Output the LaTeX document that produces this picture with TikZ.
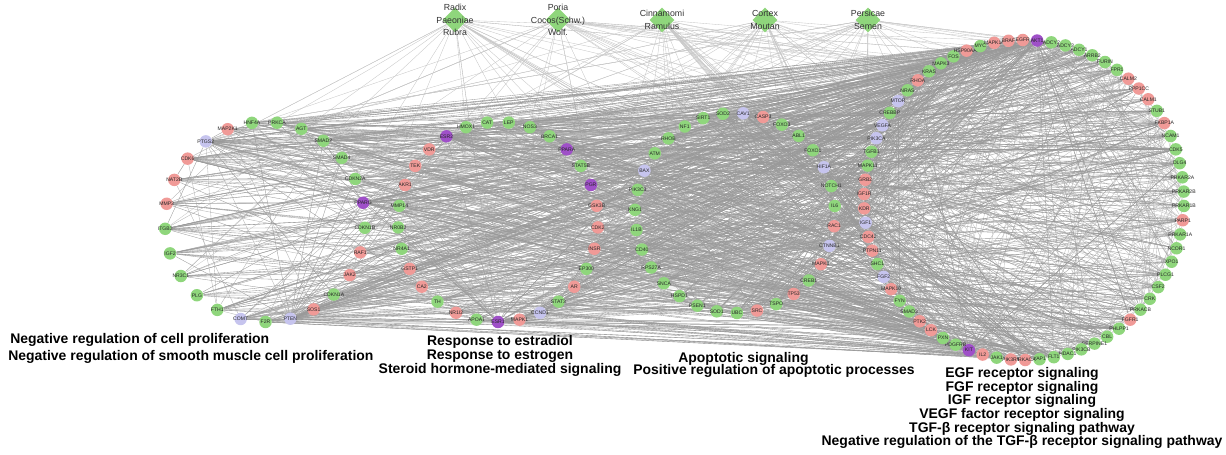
\documentclass[tikz,border=0pt]{standalone}
\usepackage{fontspec}
\setmainfont{Liberation Sans}
\usetikzlibrary{shapes.geometric,backgrounds}

\definecolor{genegreen}{HTML}{8FD67C}
\definecolor{genered}{HTML}{F09A97}
\definecolor{genelav}{HTML}{C6C4EE}
\definecolor{genepurple}{HTML}{9F50C8}

\begin{document}
\begin{tikzpicture}[
    x=0.02cm, y=-0.02cm,
    gene/.style={circle, minimum size=0.25cm, inner sep=0pt},
    genetext/.style={font=\fontsize{2.9}{3.2}\selectfont, text=black!85, inner sep=0pt},
    herb/.style={diamond, fill=genegreen, minimum size=0.5cm, inner sep=0pt},
    herbtext/.style={font=\fontsize{5}{7.1}\selectfont, text=black!80, align=center},
    edge/.style={line width=0.2pt, draw=black!40},
    herbedge/.style={line width=0.2pt, draw=black!22},
    term/.style={font=\bfseries\fontsize{7.94}{7.8}\selectfont, align=center, inner sep=0pt},
]
\useasboundingbox (0,0) rectangle (1226,455);

% Cell proliferation cluster
\foreach \lab/\col [count=\i from 1] in {HNF4A/genegreen, MAP2K1/genered, PTGS2/genelav,
    CDK6/genered, NAT2B/genered, MMP3/genered, ITGB3/genegreen, IGF2/genegreen,
    NR3C1/genegreen, PLG/genegreen, FTH1/genegreen, COMT/genelav, F2R/genegreen,
    PTEN/genelav, SOS1/genered, CDKN1A/genegreen, JAK2/genered, RAF1/genered,
    CDKN1B/genegreen, PPARG/genepurple, CDKN2A/genegreen, SMAD4/genegreen,
    SMAD2/genegreen, AGT/genegreen, PRKCA/genegreen}{
  \pgfmathsetmacro{\ang}{97.5+14.4*(\i-1)}
  \node[gene, fill=\col, label={[genetext]center:\lab}] (g\i)
    at ({265+100*cos(\ang)},{222-100*sin(\ang)}) {};
}

% Estrogen cluster
\foreach \lab/\col [count=\i from 26] in {ESR1/genepurple, MAPK1/genered, CCND1/genelav,
    STAT3/genegreen, AR/genered, EP300/genegreen, INSR/genered, CDK2/genered,
    GSK3B/genered, PGR/genepurple, STAT5B/genegreen, PPARA/genepurple, BRCA1/genegreen,
    NOS3/genegreen, LEP/genegreen, CAT/genegreen, HMOX1/genegreen, ESR2/genepurple,
    VDR/genered, TEK/genered, AKR1/genered, MMP14/genegreen, NR0B2/genegreen,
    NR4A1/genegreen, GSTP1/genered, CA2/genered, TH/genegreen, NR1I2/genered,
    APOA1/genegreen}{
  \pgfmathsetmacro{\ang}{-90+12.414*(\i-26)}
  \node[gene, fill=\col, label={[genetext]center:\lab}] (g\i)
    at ({498+100*cos(\ang)},{222-100*sin(\ang)}) {};
}

% Apoptosis cluster
\foreach \lab/\col [count=\i from 55] in {CAV1/genelav, CASP3/genered, FOXO3/genegreen,
    ABL1/genegreen, FOXO1/genegreen, HIF1A/genelav, NOTCH1/genegreen, IL6/genegreen,
    RAC1/genered, CTNNB1/genelav, MAPK8/genered, CREB1/genegreen, TP53/genered,
    TSPO/genegreen, SRC/genered, UBC/genegreen, SOD1/genegreen, PSEN1/genegreen,
    HSPD1/genegreen, SNCA/genegreen, RPS27A/genegreen, CD40/genegreen, IL1B/genegreen,
    KNG1/genegreen, PIK3C3/genegreen, BAX/genelav, ATM/genegreen, RHOB/genegreen,
    NF1/genegreen, SIRT1/genegreen, SOD2/genegreen}{
  \pgfmathsetmacro{\ang}{85.3-11.613*(\i-55)}
  \node[gene, fill=\col, label={[genetext]center:\lab}] (g\i)
    at ({735+100*cos(\ang)},{213-100*sin(\ang)}) {};
}

% Receptor signaling cluster
\foreach \lab/\col [count=\i from 86] in {AKT1/genepurple, ADCY2/genegreen, ADCY3/genegreen,
    ADCY1/genegreen, ARRB2/genegreen, FURIN/genegreen, FPR1/genegreen, CALM2/genered,
    PPP1CC/genered, CALM1/genered, STUB1/genegreen, FKBP1A/genered, NCAM1/genegreen,
    CDK5/genegreen, DLG4/genegreen, PRKAR2A/genegreen, PRKAR2B/genegreen,
    PRKAR1B/genegreen, PARP1/genered, PRKAR1A/genegreen, NCOR1/genegreen, XPO1/genegreen,
    PLCG1/genegreen, CSF2/genegreen, CRK/genegreen, PRKACB/genegreen, FGFR1/genered,
    PHLPP1/genegreen, CBL/genegreen, SERPINE1/genegreen, PIK3CB/genegreen,
    HDAC1/genegreen, FLT1/genegreen, YAP1/genegreen, PRKACA/genered, PIK3R1/genered,
    JAK1/genegreen, IL2/genered, KIT/genepurple, PDGFRB/genegreen, PXN/genegreen,
    LCK/genered, PTK2/genered, SMAD3/genegreen, FYN/genegreen, MAPK10/genered,
    FGF2/genelav, SHC1/genegreen, PTPN11/genered, CDC42/genered, IGF1/genelav,
    KDR/genered, IGF1R/genered, GRB2/genered, MAPK11/genegreen, TGFB1/genegreen,
    PIK3CA/genelav, VEGFA/genelav, CREBBP/genegreen, MTOR/genelav, NRAS/genegreen,
    RHOA/genered, KRAS/genegreen, MAPK3/genegreen, FOS/genegreen, HSP90AA1/genered,
    MYC/genegreen, MAPK14/genered, BRAF/genered, EGFR/genered}{
  \pgfmathsetmacro{\ang}{85.3-5.1429*(\i-86)}
  \node[gene, fill=\col, label={[genetext]center:\lab}] (g\i)
    at ({1024+160*cos(\ang)},{200-160*sin(\ang)}) {};
}

% Herbs
\node[herb, label={[herbtext]center:Radix\\Paeoniae\\Rubra}] (h1) at (455,20) {};
\node[herb, label={[herbtext]center:Poria\\Cocos(Schw.)\\Wolf.}] (h2) at (558,20) {};
\node[herb, label={[herbtext]center:Cinnamomi\\Ramulus}] (h3) at (662,20) {};
\node[herb, label={[herbtext]center:Cortex\\Moutan}] (h4) at (765,20) {};
\node[herb, label={[herbtext]center:Persicae\\Semen}] (h5) at (868,20) {};

% Interactions
\begin{scope}[on background layer]
  \pgfmathsetseed{11}
  \foreach \h in {1,...,5}
    \foreach \k in {1,...,30}{
      \pgfmathrandominteger{\u}{1}{155}
      \draw[herbedge] (h\h) -- (g\u);
    }
  \foreach \k in {1,...,320}{
    \pgfmathrandominteger{\u}{86}{155}
    \pgfmathrandominteger{\v}{86}{155}
    \draw[edge, draw=black!25] (g\u) -- (g\v);
  }
  \foreach \k in {1,...,650}{
    \pgfmathrandominteger{\u}{1}{85}
    \pgfmathrandominteger{\v}{86}{155}
    \draw[edge] (g\u) -- (g\v);
  }
  \foreach \k in {1,...,220}{
    \pgfmathrandominteger{\u}{1}{85}
    \pgfmathrandominteger{\v}{1}{85}
    \draw[edge, draw=black!30] (g\u) -- (g\v);
  }
  \foreach \hub in {3,14,20,26,43,55,60,64,80,124,136,142,143,145,86,86}
    \foreach \k in {1,...,30}{
      \pgfmathrandominteger{\v}{1}{155}
      \draw[edge] (g\hub) -- (g\v);
    }
\end{scope}

% GO terms
\node[term, anchor=west] (prolif) at (10,340) {Negative regulation of cell proliferation};
\node[term, anchor=west] (smooth) at (8,357) {Negative regulation of smooth muscle cell proliferation};
\node[term] (estrogen) at (500,356) {Response to estradiol\\Response to estrogen\\Steroid hormone-mediated signaling};
\node[term, anchor=west] (apop) at (678,359) {Apoptotic signaling};
\node[term, anchor=west] (posapop) at (633,371) {Positive regulation of apoptotic processes};
\node[term] (receptor) at (1022,408) {EGF receptor signaling\\FGF receptor signaling\\IGF receptor signaling\\VEGF factor receptor signaling\\TGF-β receptor signaling pathway\\Negative regulation of the TGF-β receptor signaling pathway};
\end{tikzpicture}
\end{document}
